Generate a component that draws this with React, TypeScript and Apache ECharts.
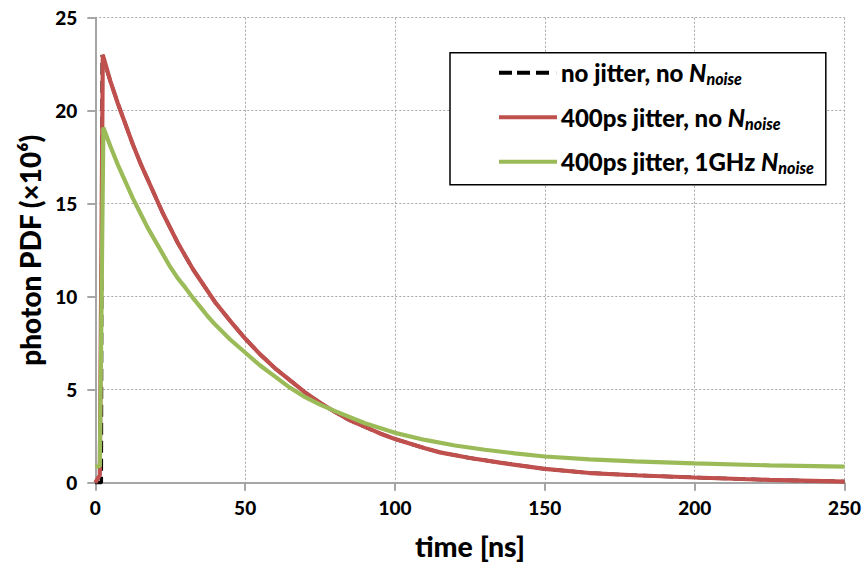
import React, { useEffect, useRef } from "react";
import * as echarts from "echarts";

const seriesNames = ["noJitter", "jitter", "jitterNoise"];

const noJitterT = [0, 2.0, 2.3, 5, 7.5, 10, 12.5, 15, 17.5, 20, 22.5, 25, 27.5, 30, 32.5, 35, 37.5, 40, 45, 50, 55, 60, 65, 70, 75, 80, 85, 90, 95, 100, 110, 115, 125, 135, 150, 165, 180, 200, 225, 250];
const noJitterY = [0, 0, 23.0, 21.6, 20.4, 19.3, 18.2, 17.2, 16.3, 15.4, 14.5, 13.7, 12.9, 12.2, 11.5, 10.9, 10.3, 9.7, 8.7, 7.75, 6.9, 6.15, 5.5, 4.85, 4.3, 3.8, 3.35, 3.0, 2.65, 2.35, 1.85, 1.63, 1.33, 1.08, 0.74, 0.52, 0.4, 0.28, 0.15, 0.06];

const jitterT = [0, 1.5, 2.5, 5, 7.5, 10, 12.5, 15, 17.5, 20, 22.5, 25, 27.5, 30, 32.5, 35, 37.5, 40, 45, 50, 55, 60, 65, 70, 75, 80, 85, 90, 95, 100, 110, 115, 125, 135, 150, 165, 180, 200, 225, 250];
const jitterY = [0, 0.4, 23.0, 21.6, 20.4, 19.3, 18.2, 17.2, 16.3, 15.4, 14.5, 13.7, 12.9, 12.2, 11.5, 10.9, 10.3, 9.7, 8.7, 7.75, 6.9, 6.15, 5.5, 4.85, 4.3, 3.8, 3.35, 3.0, 2.65, 2.35, 1.85, 1.63, 1.33, 1.08, 0.74, 0.52, 0.4, 0.28, 0.15, 0.06];

const noiseT = [0, 1.5, 2.7, 5, 7.5, 10, 12.5, 15, 17.5, 20, 22.5, 25, 27.5, 30, 32.5, 35, 37.5, 40, 45, 50, 55, 60, 65, 70, 75, 80, 90, 100, 110, 120, 130, 140, 150, 165, 180, 200, 225, 250];
const noiseY = [0.85, 0.9, 19.1, 18.1, 17.1, 16.2, 15.3, 14.5, 13.7, 13.0, 12.3, 11.6, 11.0, 10.5, 9.95, 9.45, 8.95, 8.5, 7.7, 7.0, 6.3, 5.7, 5.1, 4.6, 4.2, 3.85, 3.2, 2.68, 2.3, 2.0, 1.77, 1.58, 1.41, 1.25, 1.15, 1.04, 0.93, 0.86];

const xTicks = [0, 50, 100, 150, 200, 250];
const yTicks = [0, 5, 10, 15, 20, 25];

const legendLabels: Record<string, string> = {
  noJitter: "{b|no jitter, no }{i|N}{s|noise}",
  jitter: "{b|400ps jitter, no }{i|N}{s|noise}",
  jitterNoise: "{b|400ps jitter, 1GHz }{i|N}{s|noise}",
};

const zip = (t: number[], y: number[]) => t.map((v, i) => [v, y[i]]);

const FONT = "Lato, 'DejaVu Sans', sans-serif";
const DASH_ICON = "path://M0,0h13v4h-13z M18,0h13v4h-13z M37,0h13v4h-13z M57.9,0h0.1v4h-0.1z";

export default function App() {
  const ref = useRef<HTMLDivElement>(null);
  useEffect(() => {
    document.body.style.margin = "0";
    const chart = echarts.init(ref.current!, null, { renderer: "svg" });
    const grid = "#A6A6A6";
    chart.setOption({
      animation: false,
      backgroundColor: "#ffffff",
      textStyle: { fontFamily: FONT },
      grid: { left: 95.3, right: 21.5, top: 17.7, bottom: 89.3, containLabel: false },
      legend: {
        orient: "vertical",
        left: 450,
        top: 52.7,
        padding: [8, 12, 9, 49],
        itemGap: 18.5,
        itemWidth: 58,
        itemHeight: 4,
        borderColor: "#000",
        borderWidth: 1.5,
        backgroundColor: "#fff",
        data: [
          { name: seriesNames[0], icon: DASH_ICON },
          { name: seriesNames[1], icon: "rect" },
          { name: seriesNames[2], icon: "rect" },
        ],
        formatter: (name: string) => legendLabels[name],
        textStyle: {
          color: "#000",
          fontFamily: FONT,
          padding: [0, 0, 0, -1],
          rich: {
            b: { fontSize: 24, fontWeight: 900, lineHeight: 28, color: "#000", fontFamily: FONT, verticalAlign: "middle" },
            i: { fontSize: 24, fontWeight: 900, fontStyle: "italic", lineHeight: 28, color: "#000", fontFamily: FONT, verticalAlign: "middle" },
            s: { fontSize: 16, fontWeight: 900, fontStyle: "italic", lineHeight: 16, color: "#000", fontFamily: FONT, verticalAlign: "bottom" },
          },
        },
      },
      xAxis: {
        type: "value",
        min: xTicks[0],
        max: xTicks[xTicks.length - 1],
        interval: 50,
        name: "time [ns]",
        nameLocation: "middle",
        nameGap: 49,
        nameTextStyle: { fontSize: 28.5, fontWeight: 900, color: "#000", fontFamily: FONT },
        axisLine: { show: true, onZero: false, lineStyle: { color: grid, width: 2 } },
        axisTick: { show: true, length: 8, lineStyle: { color: grid, width: 2 } },
        axisLabel: { fontSize: 19, fontWeight: 900, color: "#000", margin: 15, fontFamily: FONT },
        splitLine: { show: true, lineStyle: { color: grid, width: 1, type: [2, 2] } },
      },
      yAxis: {
        type: "value",
        min: yTicks[0],
        max: yTicks[yTicks.length - 1],
        interval: 5,
        name: "photon PDF (×10⁶)",
        nameLocation: "middle",
        nameGap: 47,
        nameTextStyle: { fontSize: 28, fontWeight: 900, color: "#000", fontFamily: FONT },
        axisLine: { show: true, lineStyle: { color: grid, width: 2 } },
        axisTick: { show: true, length: 8, lineStyle: { color: grid, width: 2 } },
        axisLabel: { fontSize: 19, fontWeight: 900, color: "#000", margin: 18, fontFamily: FONT },
        splitLine: { show: true, lineStyle: { color: grid, width: 1, type: [2, 2] } },
      },
      series: [
        {
          name: "noJitter",
          type: "line",
          data: zip(noJitterT, noJitterY),
          symbol: "none",
          z: 1,
          lineStyle: { color: "#000", width: 3.5, type: [12, 6] },
          itemStyle: { color: "#000" },
        },
        {
          name: "jitter",
          type: "line",
          data: zip(jitterT, jitterY),
          symbol: "none",
          z: 2,
          lineStyle: { color: "#C0504D", width: 4.2 },
          itemStyle: { color: "#C0504D" },
        },
        {
          name: "jitterNoise",
          type: "line",
          data: zip(noiseT, noiseY),
          symbol: "none",
          z: 3,
          lineStyle: { color: "#9BBB59", width: 4.2 },
          itemStyle: { color: "#9BBB59" },
        },
      ],
    });
    return () => chart.dispose();
  }, []);
  return <div ref={ref} style={{ width: 866, height: 572 }} />;
}
